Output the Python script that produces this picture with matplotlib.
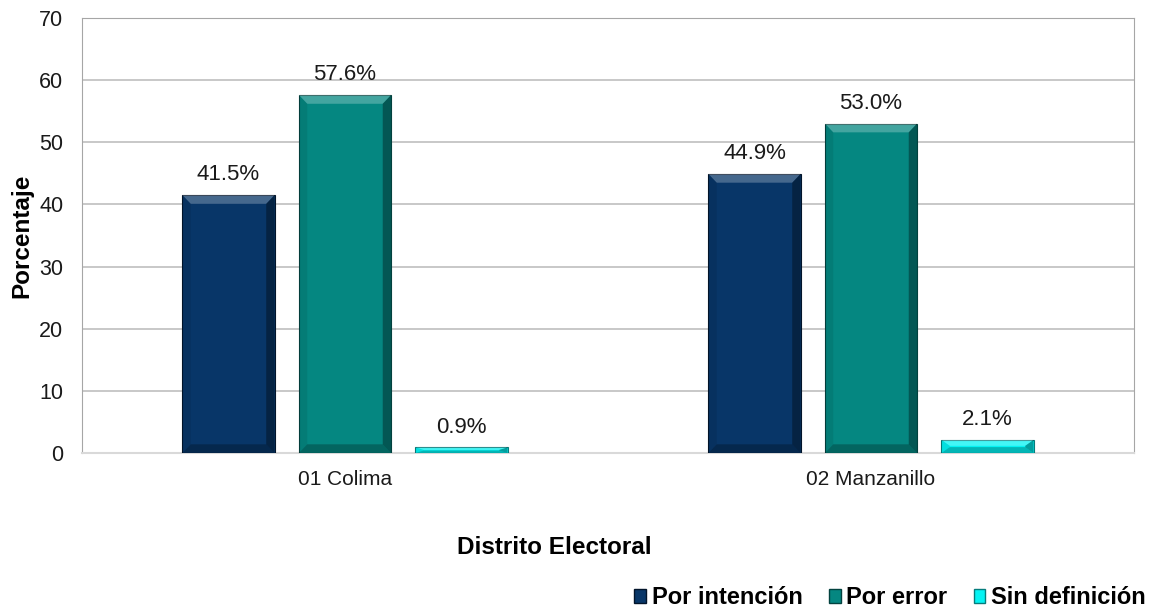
import numpy as np
import matplotlib.pyplot as plt
from matplotlib.patches import Polygon

plt.rcParams['font.family'] = ['Liberation Sans', 'DejaVu Sans']

# Data
distritos = ['01 Colima', '02 Manzanillo']
series = ['Por intención', 'Por error', 'Sin definición']
por_intencion = [41.5, 44.9]
por_error = [57.6, 53.0]
sin_definicion = [0.9, 2.1]
colores = ['#083668', '#058781', '#05F3F3']
bordes = ['#02142A', '#03423F', '#067C7C']

valores = [por_intencion, por_error, sin_definicion]

fig = plt.figure(figsize=(11.53, 6.12), dpi=100)
ax = fig.add_axes([82 / 1153, 1 - 453 / 612, 1052 / 1153, 435 / 612])

x = np.arange(len(distritos))
width = 0.175
step = 0.2215

for i, (vals, c, b) in enumerate(zip(valores, colores, bordes)):
    pos = x + (i - 1) * step
    bars = ax.bar(pos, vals, width, color=c, edgecolor=b, linewidth=0.8, zorder=3)
    for rect, v in zip(bars, vals):
        x0, w, h = rect.get_x(), rect.get_width(), rect.get_height()
        bev_x = w * 0.09
        bev_y = min(h * 0.45, 1.4)
        # bevel: light top, dark right and bottom
        top = Polygon([[x0, h], [x0 + w, h], [x0 + w - bev_x, h - bev_y], [x0 + bev_x, h - bev_y]],
                      closed=True, facecolor='white', alpha=0.25, lw=0, zorder=4)
        right = Polygon([[x0 + w, h], [x0 + w, 0], [x0 + w - bev_x, bev_y], [x0 + w - bev_x, h - bev_y]],
                        closed=True, facecolor='black', alpha=0.35, lw=0, zorder=4)
        bottom = Polygon([[x0, 0], [x0 + w, 0], [x0 + w - bev_x, bev_y], [x0 + bev_x, bev_y]],
                         closed=True, facecolor='black', alpha=0.25, lw=0, zorder=4)
        left = Polygon([[x0, 0], [x0, h], [x0 + bev_x, h - bev_y], [x0 + bev_x, bev_y]],
                       closed=True, facecolor='black', alpha=0.08, lw=0, zorder=4)
        for p in (top, right, bottom, left):
            ax.add_patch(p)
        ax.annotate(f'{v:.1f}%', (rect.get_x() + w / 2, h), xytext=(0, 7),
                    textcoords='offset points', ha='center', va='bottom', fontsize=16, color='#1a1a1a')

ax.set_xlim(-0.5, 1.5)
ax.set_ylim(0, 70)
ax.set_yticks(range(0, 71, 10))
ax.set_xticks(x)
ax.set_xticklabels(distritos, fontsize=15)
ax.tick_params(axis='y', length=0, pad=13.5, labelsize=15.5, labelcolor='#1a1a1a')
ax.tick_params(axis='x', length=0, pad=12, labelcolor='#1a1a1a')
ax.grid(axis='y', color='#BFBFBF', linewidth=1.2, zorder=0)

for s in ['left', 'right', 'top']:
    ax.spines[s].set_color('#A6A6A6')
ax.spines['bottom'].set_color('#D9D9D9')
ax.spines['bottom'].set_linewidth(1.5)

ax.set_ylabel('Porcentaje', fontsize=17.5, fontweight='bold', labelpad=4)
fig.text(554 / 1153, 1 - 547 / 612, 'Distrito Electoral', ha='center', va='center',
         fontsize=17.5, fontweight='bold')

handles = [plt.Rectangle((0, 0), 1, 1, facecolor=c, edgecolor=b) for c, b in zip(colores, bordes)]
fig.legend(handles, series, loc='center right', bbox_to_anchor=(1146 / 1153, 1 - 598 / 612),
           ncol=3, frameon=False, prop={'weight': 'bold', 'size': 17},
           handlelength=0.5, handleheight=0.5, handletextpad=0.25, columnspacing=1.1,
           borderaxespad=0, borderpad=0)

fig.savefig('out.png', dpi=100)
